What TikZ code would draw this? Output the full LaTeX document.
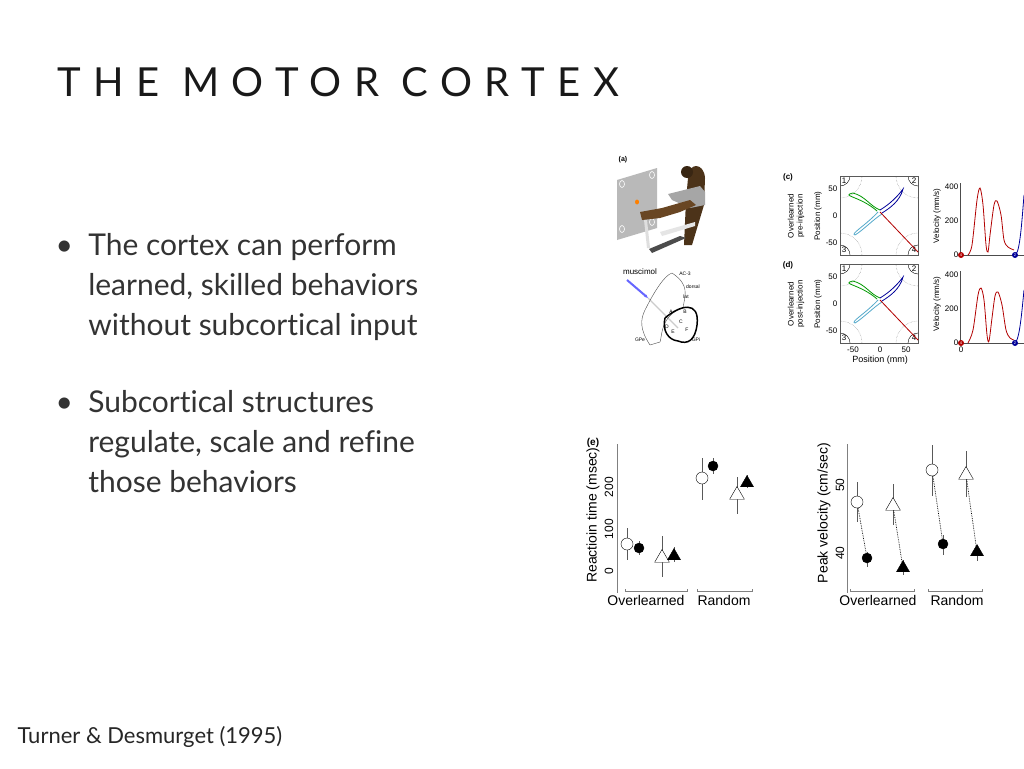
\documentclass[tikz,border=0pt]{standalone}
\usepackage{fontspec}
\setmainfont[Ligatures=NoCommon]{Lato}
\newfontfamily\figfont{Liberation Sans}
\usepackage{tikz}
\usetikzlibrary{arrows.meta}
\usetikzlibrary{shapes.geometric}

\tikzset{
  bullet/.style={anchor=west, align=left, font=\fontsize{30}{40}\selectfont, text=black!80},
  figlabel/.style={font=\figfont\fontsize{8}{9}\selectfont, inner sep=0.5pt},
  axlabel/.style={font=\figfont\fontsize{14}{15}\selectfont, inner sep=0.5pt},
  opencirc/.style={circle, draw, fill=white, minimum size=12pt, inner sep=0pt},
  fullcirc/.style={circle, draw, fill=black, minimum size=10pt, inner sep=0pt},
  opentri/.style={regular polygon, regular polygon sides=3, draw, fill=white, minimum size=17pt, inner sep=0pt},
  fulltri/.style={regular polygon, regular polygon sides=3, draw, fill=black, minimum size=15pt, inner sep=0pt},
  errbar/.style={gray!70!black, line width=0.8pt},
  pairline/.style={densely dotted, line width=0.7pt},
  numdot/.style={circle, inner sep=0pt, minimum size=6pt, font=\figfont\fontsize{4}{4}\selectfont, text=white}
}

\begin{document}
\begin{tikzpicture}[x=1pt, y=-1pt]
\useasboundingbox[fill=white] (0,0) rectangle (1024,768);
% title and text
\node[anchor=west, font=\fontsize{40}{44}\selectfont, text=black!90] (title) at (54,82)
  {\addfontfeatures{LetterSpace=31}THE MOTOR CORTEX};
\node[bullet] (b1) at (52,287) {\textbullet\ \ The cortex can perform\\
  \phantom{\textbullet\ \ }learned, skilled behaviors\\
  \phantom{\textbullet\ \ }without subcortical input};
\node[bullet] (b2) at (52,442) {\textbullet\ \ Subcortical structures\\
  \phantom{\textbullet\ \ }regulate, scale and refine\\
  \phantom{\textbullet\ \ }those behaviors};
\node[anchor=west, font=\fontsize{22}{24}\selectfont, text=black!85] (cite) at (14,737) {Turner \& Desmurget (1995)};

% panel (a): screen and monkey
\node[figlabel, font=\figfont\bfseries\fontsize{7}{8}\selectfont] (la) at (623,160) {(a)};
\fill[gray!55] (617,180) -- (657,168) -- (657,228) -- (617,240) -- cycle;
\foreach \p in {(622,184),(652,175),(622,229),(652,222)}
  \draw[white, line width=0.6pt] \p ellipse (2.5 and 3.5);
\fill[orange] (637,202) ellipse (2 and 2.5);
\fill[brown!40!black] (688,178) .. controls (688,162) and (704,162) .. (705,178) -- (704,205) -- (692,245) -- (684,245) -- (686,200) -- cycle;
\fill[gray!70] (668,194) -- (700,186) -- (705,192) -- (705,205) -- (690,208) -- (672,200) -- cycle;
\fill[brown!55!black] (640,212) -- (662,208) -- (690,200) -- (696,205) -- (680,212) -- (660,218) -- (642,220) -- cycle;
\fill[brown!30!black] (687,172) circle (6);
\fill[gray!20] (660,232) -- (695,222) -- (695,226) -- (662,236) -- cycle;
\fill[black!70] (649,249) -- (680,236) -- (686,238) -- (652,253) -- cycle;
\fill[gray!25] (644,220) -- (647,220) -- (650,248) -- (647,248) -- cycle;

% brain section
\node[figlabel, anchor=south] (musc) at (640,275) {muscimol};
\draw[blue!60, line width=2pt, -{Stealth[length=4pt]}] (627,280) -- (648,298);
\draw[gray!40, line width=1.2pt] (648,298) -- (678,328);
\draw[black!70] (672,273) .. controls (690,285) and (685,295) .. (683,308)
  .. controls (660,315) and (662,338) .. (660,342) -- (650,345)
  .. controls (640,330) and (640,320) .. (645,310) .. controls (655,290) and (665,275) .. (672,273);
\draw[black, line width=1.5pt] (665,318) .. controls (680,305) and (700,300) .. (697,325)
  .. controls (695,340) and (688,345) .. (678,341) .. controls (668,340) and (662,330) .. (665,318);
\node[figlabel, font=\figfont\fontsize{5}{6}\selectfont] (ac3) at (685,274) {AC-3};
\node[figlabel, font=\figfont\fontsize{5}{6}\selectfont] (dors) at (693,287) {dorsal};
\node[figlabel, font=\figfont\fontsize{5}{6}\selectfont] (lat) at (686,297) {lat};
\node[figlabel, font=\figfont\fontsize{5}{6}\selectfont] (gpe) at (640,340) {GPe};
\node[figlabel, font=\figfont\fontsize{5}{6}\selectfont] (gpi) at (696,340) {GPi};
\foreach \l/\x/\y in {A/671/312,B/685/312,C/681/322,D/667/327,E/673/332,F/687/330}
  \node[figlabel, font=\figfont\fontsize{5}{6}\selectfont] (r\l) at (\x,\y) {\l};

% panels (c) and (d): positions
\foreach \pan/\top in {c/176, d/264} {
  \node[figlabel, font=\figfont\bfseries\fontsize{8}{9}\selectfont] (l\pan) at (788,\top+1) {(\pan)};
  \begin{scope}
    \clip (840,\top) rectangle (918,\top+79);
    \foreach \cx/\cy in {840/0,918/0,840/79,918/79}
      \draw[gray, densely dotted] (\cx,\top+\cy) circle (22);
    \foreach \cx/\cy in {840/0,918/0,840/79,918/79}
      \draw (\cx,\top+\cy) circle (10);
  \end{scope}
  \draw[gray!70!black] (840,\top) rectangle (918,\top+79);
  \node[figlabel] at (844,\top+5) {1};
  \node[figlabel] at (914,\top+5) {2};
  \node[figlabel] at (844,\top+74) {3};
  \node[figlabel] at (914,\top+74) {4};
  \foreach \v/\yy in {50/13, 0/40, -50/67}
    \node[figlabel, anchor=east] at (838,\top+\yy) {\v};
  \node[figlabel, rotate=90] at (818,\top+40) {Position (mm)};
  \draw[green!60!black, line width=0.8pt] (877,\top+35) .. controls (860,\top+20) and (840,\top+20) .. (853,\top+17)
    .. controls (865,\top+20) and (870,\top+30) .. (880,\top+34);
  \draw[cyan!60!gray, line width=0.8pt] (878,\top+36) .. controls (865,\top+50) and (850,\top+58) .. (855,\top+59)
    .. controls (862,\top+55) and (875,\top+42) .. (882,\top+38);
  \draw[blue!60!black, line width=0.8pt] (880,\top+34) .. controls (890,\top+28) and (898,\top+20) .. (903,\top+13)
    .. controls (900,\top+25) and (890,\top+32) .. (882,\top+37);
  \draw[red!70!black, line width=0.8pt] (880,\top+36) -- (918,\top+76);
  % velocity
  \draw[black!70] (960,\top+7) -- (960,\top+79) -- (1024,\top+79);
  \foreach \v/\yy in {400/11, 200/45, 0/79}
    \node[figlabel, anchor=east] at (959,\top+\yy) {\v};
  \node[figlabel, rotate=90] at (937,\top+40) {Velocity (mm/s)};
}
\node[figlabel, rotate=90, align=center] (ovc) at (796,216) {Overlearned\\pre-injection};
\node[figlabel, rotate=90, align=center] (ovd) at (796,304) {Overlearned\\post-injection};
\foreach \v/\xx in {-50/853, 0/880, 50/906}
  \node[figlabel] at (\xx,350) {\v};
\node[figlabel, font=\figfont\fontsize{9}{10}\selectfont] (posx) at (880,360) {Position (mm)};
\node[figlabel] at (961,350) {0};
\draw[red!70!black, line width=0.8pt] plot[smooth] coordinates {(968,255) (972,245) (977,200) (980,188) (983,205) (986,245) (988,252) (990,235) (994,205) (997,201) (1001,215) (1004,240) (1008,247) (1014,250)};
\draw[blue!60!black, line width=0.8pt] (1016,254) .. controls (1020,250) and (1022,220) .. (1024,195);
\draw[red!70!black, line width=0.8pt] plot[smooth] coordinates {(968,343) (973,330) (978,295) (981,288) (984,300) (987,335) (989,341) (992,318) (995,296) (998,292) (1002,305) (1006,330) (1010,338) (1014,340)};
\draw[blue!60!black, line width=0.8pt] (1016,342) .. controls (1020,335) and (1022,310) .. (1024,290);
\node[numdot, fill=red!70!black] (v4c) at (961,255) {4};
\node[numdot, fill=blue!60!black] (v2c) at (1015,255) {2};
\node[numdot, fill=red!70!black] (v4d) at (961,343) {4};
\node[numdot, fill=blue!60!black] (v2d) at (1015,343) {2};

% panel (e): reaction time
\node[figlabel, font=\figfont\bfseries\fontsize{10}{11}\selectfont] (le) at (593,443) {(e)};
\draw[gray] (617,444) -- (617,593);
\foreach \v/\yy in {0/571, 100/529, 200/487}
  \node[axlabel, font=\figfont\fontsize{12}{13}\selectfont, rotate=90] at (609,\yy) {\v};
\node[axlabel, rotate=90] (rty) at (593,515) {Reactioin time (msec)};
\draw[gray] (625,589) -- (625,591) -- (687,591) -- (687,589);
\draw[gray] (697,589) -- (697,591) -- (752,591) -- (752,589);
\node[axlabel] (ovl1) at (646,600) {Overlearned};
\node[axlabel] (rnd1) at (724,600) {Random};
\foreach \x/\ya/\yb in {627/528/560, 639/541/555, 662/536/577, 674/547/562, 702/458/500, 713/458/474, 737/477/514, 747/475/488}
  \draw[errbar] (\x,\ya) -- (\x,\yb);
\node[opencirc] (ro1) at (627,544) {};
\node[fullcirc] (rf1) at (639,548) {};
\node[opentri] (rt1) at (662,558) {};
\node[fulltri] (rs1) at (674,556) {};
\node[opencirc] (ro2) at (702,478) {};
\node[fullcirc] (rf2) at (713,466) {};
\node[opentri] (rt2) at (737,495) {};
\node[fulltri] (rs2) at (747,483) {};

% panel (e): peak velocity
\draw[gray] (847,444) -- (847,593);
\foreach \v/\yy in {50/485, 40/553}
  \node[axlabel, font=\figfont\fontsize{12}{13}\selectfont, rotate=90] at (840,\yy) {\v};
\node[axlabel, rotate=90] (pvy) at (824,513) {Peak velocity (cm/sec)};
\draw[gray] (850,589) -- (850,591) -- (914,591) -- (914,589);
\draw[gray] (928,589) -- (928,591) -- (982,591) -- (982,589);
\node[axlabel] (ovl2) at (878,600) {Overlearned};
\node[axlabel] (rnd2) at (957,600) {Random};
\foreach \x/\ya/\yb in {857/482/522, 867/552/567, 893/484/525, 903/560/575, 932/445/496, 943/535/555, 966/451/497, 977/545/561}
  \draw[errbar] (\x,\ya) -- (\x,\yb);
\node[opencirc] (po1) at (857,502) {};
\node[fullcirc] (pf1) at (867,558) {};
\node[opentri] (pt1) at (893,506) {};
\node[fulltri] (ps1) at (903,568) {};
\node[opencirc] (po2) at (932,470) {};
\node[fullcirc] (pf2) at (943,544) {};
\node[opentri] (pt2) at (966,475) {};
\node[fulltri] (ps2) at (977,552) {};
\draw[pairline] (po1) -- (pf1);
\draw[pairline] (pt1) -- (ps1);
\draw[pairline] (po2) -- (pf2);
\draw[pairline] (pt2) -- (ps2);
\end{tikzpicture}
\end{document}
